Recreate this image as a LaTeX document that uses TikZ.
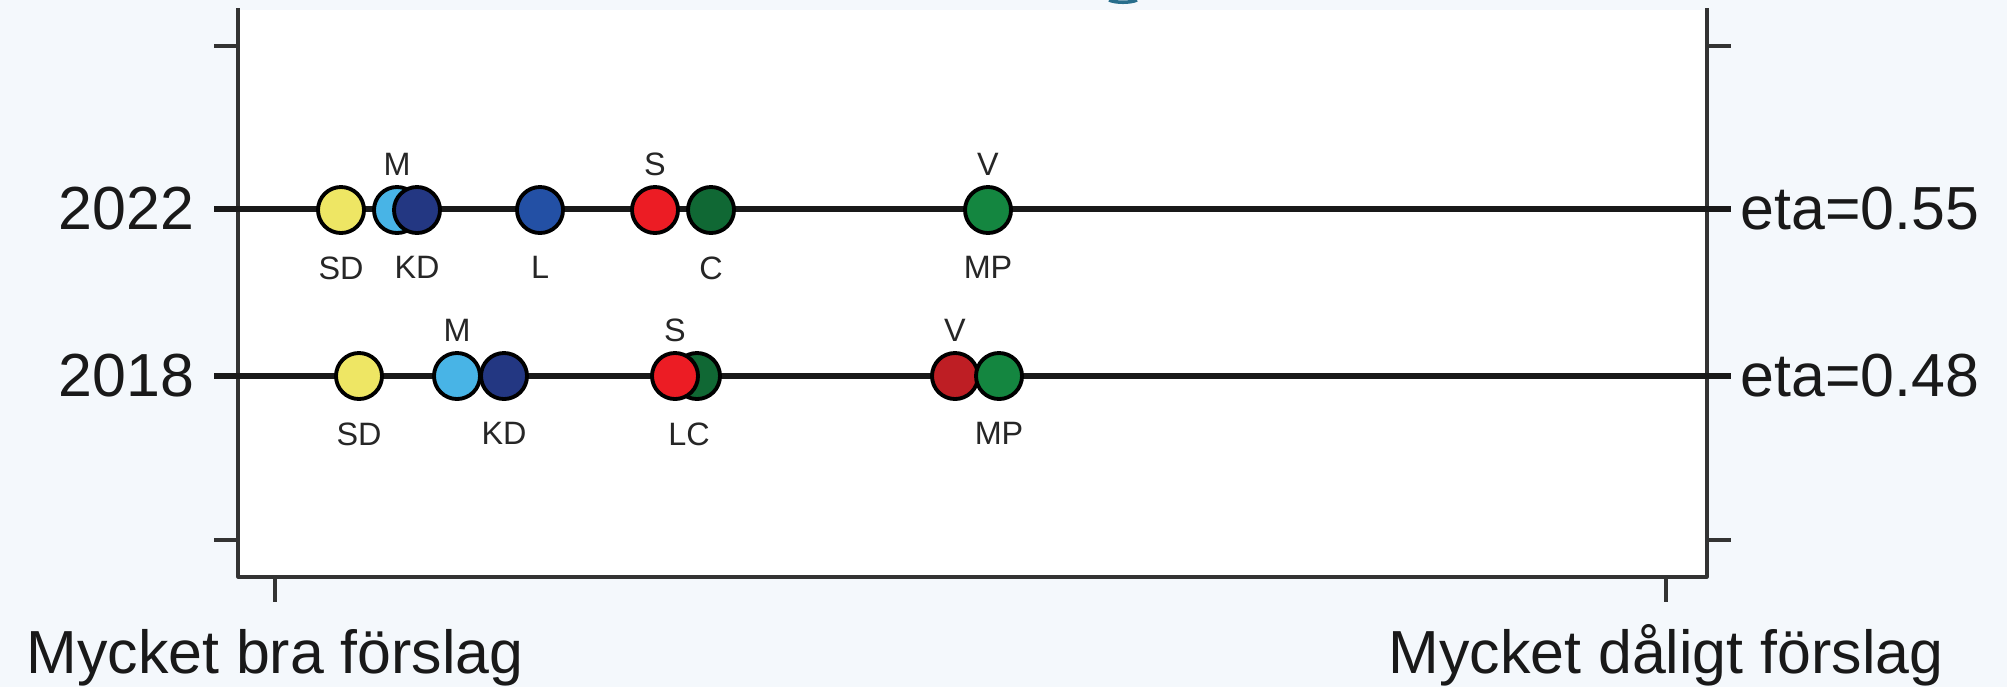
\documentclass[tikz,border=0pt]{standalone}
\usepackage{fontspec}
\setmainfont{Liberation Sans}
\usetikzlibrary{positioning}

\definecolor{slidebg}{RGB}{244,248,252}
\definecolor{sdyellow}{RGB}{238,230,100}
\definecolor{mlight}{RGB}{72,180,230}
\definecolor{kdnavy}{RGB}{35,55,130}
\definecolor{lblue}{RGB}{35,80,165}
\definecolor{sred}{RGB}{236,28,36}
\definecolor{cgreen}{RGB}{16,104,52}
\definecolor{mpgreen}{RGB}{20,134,64}
\definecolor{vred}{RGB}{190,30,36}
\definecolor{titleblue}{RGB}{40,110,140}

\tikzset{
  party/.style={circle, draw=black, line width=1.1pt, minimum size=0.46cm, inner sep=0pt, fill=#1},
  plbl/.style={font=\fontsize{9.2}{10}\selectfont, inner sep=0pt, text=black!85},
  bigtxt/.style={font=\fontsize{17.3}{20}\selectfont, inner sep=0pt, text=black!90},
  axtxt/.style={bigtxt, text height=0.44cm, text depth=0.13cm},
  dataline/.style={line width=1.5pt, black!90},
  axisline/.style={line width=0.9pt, black!80},
}

\begin{document}
\begin{tikzpicture}[x=0.01cm, y=-0.01cm]
    \useasboundingbox (0,0) rectangle (2007,687);
    \fill[slidebg] (0,0) rectangle (2007,687);
    \fill[white] (238,10) rectangle (1707,577);
    \draw[titleblue, line width=1pt] (1109,0) .. controls (1116,3) and (1130,3) .. (1137,0);

    % frame and ticks
    \draw[axisline, line join=round] (238,8) -- (238,577) -- (1707,577) -- (1707,8);
    \foreach \y in {46,209,376,540} {
        \draw[axisline] (214,\y) -- (238,\y);
        \draw[axisline] (1707,\y) -- (1731,\y);
    }
    \coordinate (bra) at (275,602);
    \coordinate (dalig) at (1666,602);
    \draw[axisline] (275,577) -- (bra);
    \draw[axisline] (1666,577) -- (dalig);
    \node[axtxt, below=0.27cm of bra] (bratxt) {Mycket bra förslag};
    \node[axtxt, below=0.27cm of dalig] (daligtxt) {Mycket dåligt förslag};

    % 2022
    \coordinate (start22) at (214,209);
    \coordinate (end22) at (1731,209);
    \draw[dataline] (start22) -- (end22);
    \node[bigtxt, left=0.19cm of start22] (y22) {2022};
    \node[bigtxt, right=0.09cm of end22] (eta22) {eta=0.55};

    \node[party=sdyellow] (sd22) at (341,210) {};
    \node[party=mlight] (m22) at (397,210) {};
    \node[party=kdnavy] (kd22) at (417,210) {};
    \node[party=lblue] (l22) at (540,210) {};
    \node[party=sred] (s22) at (655,210) {};
    \node[party=cgreen] (c22) at (711,210) {};
    \node[party=mpgreen] (mp22) at (988,210) {};

    \node[plbl, above=0.09cm of m22] (m22t) {M};
    \node[plbl, above=0.09cm of s22] (s22t) {S};
    \node[plbl, above=0.09cm of mp22] (v22t) {V};
    \node[plbl, below=0.21cm of sd22] (sd22t) {SD};
    \node[plbl, below=0.21cm of kd22] (kd22t) {KD};
    \node[plbl, below=0.21cm of l22] (l22t) {L};
    \node[plbl, below=0.21cm of c22] (c22t) {C};
    \node[plbl, below=0.21cm of mp22] (mp22t) {MP};

    % 2018
    \coordinate (start18) at (214,376);
    \coordinate (end18) at (1731,376);
    \draw[dataline] (start18) -- (end18);
    \node[bigtxt, left=0.19cm of start18] (y18) {2018};
    \node[bigtxt, right=0.09cm of end18] (eta18) {eta=0.48};

    \node[party=sdyellow] (sd18) at (359,376) {};
    \node[party=mlight] (m18) at (457,376) {};
    \node[party=kdnavy] (kd18) at (504,376) {};
    \node[party=cgreen] (c18) at (697,376) {};
    \node[party=sred] (s18) at (675,376) {};
    \node[party=vred] (v18) at (955,376) {};
    \node[party=mpgreen] (mp18) at (999,376) {};

    \node[plbl, above=0.09cm of m18] (m18t) {M};
    \node[plbl, above=0.09cm of s18] (s18t) {S};
    \node[plbl, above=0.09cm of v18] (v18t) {V};
    \node[plbl, below=0.21cm of sd18] (sd18t) {SD};
    \node[plbl, below=0.21cm of kd18] (kd18t) {KD};
    \node[plbl, below=0.21cm of c18, xshift=-0.08cm] (lc18t) {LC};
    \node[plbl, below=0.21cm of mp18] (mp18t) {MP};
\end{tikzpicture}
\end{document}
